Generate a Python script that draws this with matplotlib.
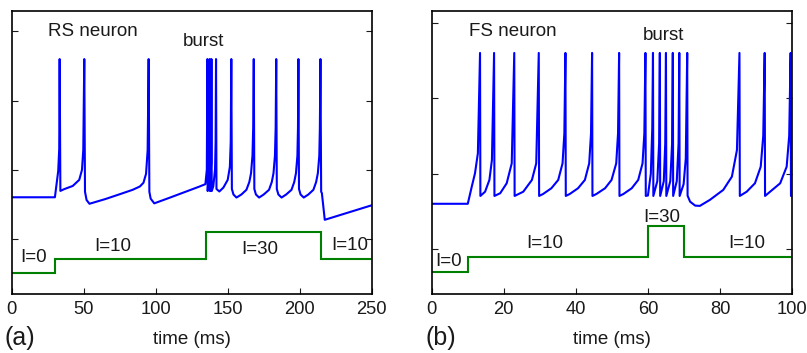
import numpy as np
import matplotlib
matplotlib.use("Agg")
import matplotlib.pyplot as plt

plt.rcParams['font.family'] = ['Liberation Sans', 'DejaVu Sans']

# RS neuron membrane potential (ms, mV)
rs_t = [0, 30, 32.3, 33.0, 33.3, 33.8, 36.5, 42.4, 46.9, 48.8, 49.7, 50.4,
        50.9, 52.0, 54.0, 65, 75, 84, 89, 91.5, 93.3, 94.4, 95.1,
        95.6, 96.5, 99, 110, 120, 130, 134.5, 135.5, 135.9,
        136.1, 137.2, 137.5, 137.7, 138.5, 138.7, 138.9, 140, 141.2, 141.6, 141.9,
        142.2, 144.2, 147, 150, 151.5, 152.1, 152.5,
        152.9, 154, 156.1, 159.5, 163, 165, 166.2, 167.2, 167.7, 168.1,
        168.5, 169.6, 171.8, 175, 178.7, 180.6, 181.8, 182.8, 183.3, 183.7,
        184.1, 185.2, 187.4, 190.6, 194.3, 196.2, 197.4, 198.4, 198.8, 199.1,
        199.5, 200.6, 202.8, 206, 209.5, 211.4, 212.6, 213.6, 214.0, 214.4,
        214.9, 215.4, 217.4, 250]
rs_v = [-70, -70, -51, -35, 30, -65.4, -64.1, -61.8, -57.4, -50.2, -35.8, 30,
        -66, -72, -74.7, -71.3, -67.8, -64.6, -62.2, -59.5, -53, -36, 30,
        -66, -71, -74.4, -70.2, -66.3, -62.4, -60.5, -50, 30,
        -65.5, -45, 30, -65.5, -45, 30, -65.5, -62, -50, -30, 30,
        -64, -65.8, -63, -57.4, -48, -30, 30,
        -64, -68, -70.2, -68, -64.6, -59, -52.6, -40, -20, 30,
        -64, -68, -70.2, -68, -64.6, -59, -52.6, -40, -20, 30,
        -64, -68, -70.2, -68, -64.6, -59, -52.6, -40, -20, 30,
        -64, -68, -70.2, -68, -64.6, -59, -52.6, -40, -20, 30,
        -66, -67, -86.3, -75.8]

# FS neuron membrane potential (ms, mV)
fs_t = [0, 10, 11.1, 12.0, 12.8, 13.4,
        13.5, 14.8, 16.0, 16.7, 17.3,
        17.4, 19.0, 20.8, 22.2, 22.9,
        23.0, 25.4, 27.8, 29.0, 29.7,
        29.8, 30.9, 33.2, 35.1, 36.3, 36.8, 37.1,
        37.2, 38.3, 40.6, 42.5, 43.7, 44.2, 44.5,
        44.6, 45.7, 48.1, 49.9, 51.2, 51.7, 52.0,
        52.1, 53.2, 55.5, 57.3, 58.5, 59.0, 59.3,
        59.4, 60.0, 60.8, 61.2, 61.4,
        61.5, 62.6, 63.1, 63.3,
        63.4, 64.4, 64.8, 65.0,
        65.1, 66.2, 66.7, 66.9,
        67.0, 68.0, 68.5, 68.7,
        68.8, 69.9, 70.5, 70.9,
        71.0, 71.7, 73.1, 74.4, 77.2, 80.9, 83.3, 84.7, 85.4,
        85.5, 87.4, 89.7, 91.3, 92.0, 92.4,
        92.5, 93.9, 96.7, 98.5, 99.2, 99.6,
        99.7, 100]
fs_v = [-70, -70, -58.7, -49.8, -36.6, 30,
        -64.8, -62, -54.2, -41, 30,
        -64.8, -63, -56.4, -43.2, 30,
        -64.8, -62, -54.2, -43.2, 30,
        -64.8, -63.5, -59.7, -54.2, -43.2, -23.4, 30,
        -64.8, -63.5, -59.7, -54.2, -43.2, -23.4, 30,
        -64.8, -63.5, -59.7, -54.2, -43.2, -23.4, 30,
        -64.8, -63.5, -59.7, -54.2, -43.2, -23.4, 30,
        -64.8, -64.5, -50, -20, 30,
        -64.8, -55, -30, 30,
        -64.8, -55, -30, 30,
        -64.8, -55, -30, 30,
        -64.8, -55, -30, 30,
        -64.8, -57, -40, 30,
        -64.6, -68.6, -71.2, -71.4, -67.4, -60.8, -52, -34.4, 30,
        -64.8, -62, -56.4, -45.4, -25, 30,
        -64.8, -62, -56.4, -45.4, -25, 30,
        -64.8, -64.5]

# injected current steps
rs_I_edges = [0, 30, 135, 215, 250]
rs_I = [0, 10, 30, 10]
fs_I_edges = [0, 10, 60, 70, 100]
fs_I = [0, 10, 30, 10]

rs_labels = [(15.5, -113.5, 'I=0'), (70, -105.5, 'I=10'), (172, -108, 'I=30'), (235, -105, 'I=10')]
fs_labels = [(4.8, -108, 'I=0'), (31.3, -96, 'I=10'), (63.9, -79, 'I=30'), (87.5, -96, 'I=10')]

blue = (0, 0, 1)
green = (0, 0.5, 0)
txt = '#1a1a1a'
fs_txt = 13.5

fig = plt.figure(figsize=(8.07, 3.53), dpi=100)
ax1 = fig.add_axes([0.0145, 0.1671, 0.4461, 0.8026])
ax2 = fig.add_axes([0.535, 0.1663, 0.4465, 0.8034])

ax1.plot(rs_t, rs_v, color=blue, lw=1.5)
ax1.stairs(np.array(rs_I) - 125, rs_I_edges, baseline=None, color=green, lw=1.5)
ax1.set_xlim(0, 250)
ax1.set_ylim(-140, 65)
ax1.set_xticks([0, 50, 100, 150, 200, 250])
ax1.text(56.5, 50, 'RS neuron', fontsize=fs_txt, ha='center', va='center', color=txt)
ax1.text(133.5, 43, 'burst', fontsize=fs_txt, ha='center', va='center', color=txt)
for x, y, s in rs_labels:
    ax1.text(x, y, s, fontsize=fs_txt, ha='center', va='center', color=txt)

ax2.plot(fs_t, fs_v, color=blue, lw=1.5)
ax2.stairs(np.array(fs_I) - 115, fs_I_edges, baseline=None, color=green, lw=1.5)
ax2.set_xlim(0, 100)
ax2.set_ylim(-130, 58)
ax2.set_xticks([0, 20, 40, 60, 80, 100])
ax2.text(22.4, 44, 'FS neuron', fontsize=fs_txt, ha='center', va='center', color=txt)
ax2.text(64.3, 41.5, 'burst', fontsize=fs_txt, ha='center', va='center', color=txt)
for x, y, s in fs_labels:
    ax2.text(x, y, s, fontsize=fs_txt, ha='center', va='center', color=txt)

for ax in (ax1, ax2):
    ax.set_yticks([-100, -50, 0, 50])
    ax.set_yticklabels([])
    ax.tick_params(direction='in', length=4, width=0.8, top=False, right=True,
                   labelsize=13.2, pad=5, colors=txt)
    for sp in ax.spines.values():
        sp.set_linewidth(1.2)
        sp.set_color('k')

fig.text(191.7 / 807, 1 - 340 / 353, 'time (ms)', fontsize=13.5, ha='center', va='center', color=txt)
fig.text(611.9 / 807, 1 - 340 / 353, 'time (ms)', fontsize=13.5, ha='center', va='center', color=txt)
fig.text(5 / 807, 1 - 338 / 353, '(a)', fontsize=18, ha='left', va='center', color=txt)
fig.text(425.7 / 807, 1 - 338 / 353, '(b)', fontsize=18, ha='left', va='center', color=txt)

fig.savefig('out.png', dpi=100)
